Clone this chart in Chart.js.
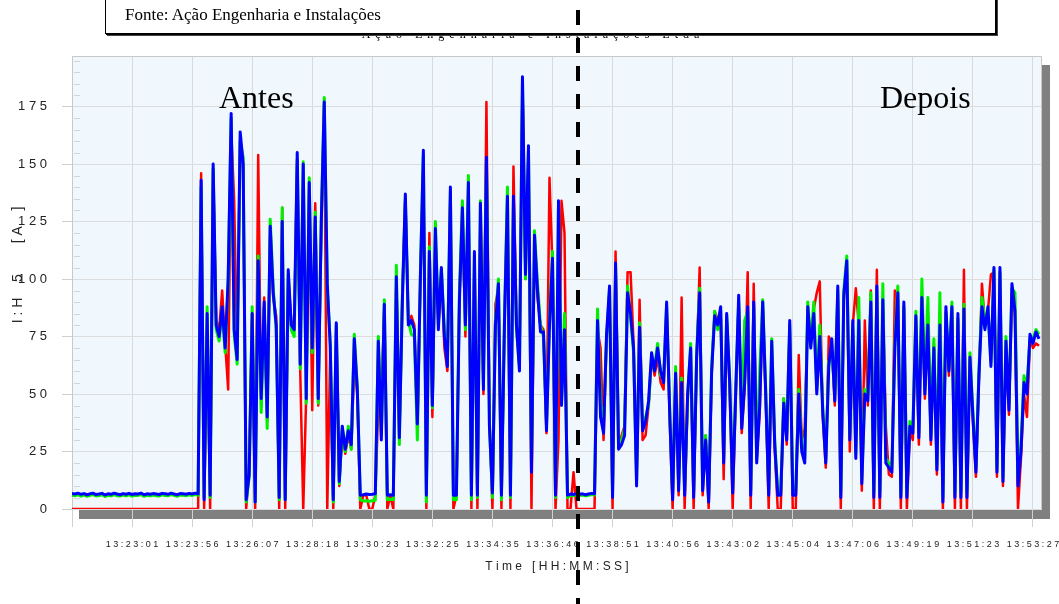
<!DOCTYPE html>
<html>
<head>
<meta charset="utf-8">
<script src="https://cdn.jsdelivr.net/npm/chart.js@4/dist/chart.umd.min.js"></script>
<style>
  html, body { margin: 0; padding: 0; background: #fff; overflow: hidden; }
  #wrap { position: relative; width: 1059px; height: 604px; }
  #c { position: absolute; left: 0; top: 0; z-index: 0; }
  .serif { position: absolute; font-family: 'Liberation Serif', 'Times New Roman', serif; color: #000; white-space: nowrap; }
  #title { left: 0; top: 27px; width: 1066px; text-align: center; font-size: 12px; line-height: 14px; letter-spacing: 5px; z-index: 1; }
  #fonte { left: 105px; top: -2px; width: 891px; height: 36px; box-sizing: border-box; border: 1px solid #000;
           box-shadow: 1px 1px 0 #000, 2px 2px 0 #444; background: #fff; z-index: 2; }
  #fonte span { position: absolute; left: 19px; top: 6px; font-size: 17px; line-height: 20px; }
  .big { font-size: 32px; line-height: 32px; top: 81px; z-index: 3; }
  #dash { position: absolute; left: 576px; top: 10px; width: 4px; height: 594px; z-index: 4;
          background: repeating-linear-gradient(to bottom, #000 0 15px, transparent 15px 28px); }
</style>
</head>
<body>
<div id="wrap">
  <canvas id="c" width="1059" height="604"></canvas>
  <div id="title" class="serif">Ação Engenharia e Instalações Ltda</div>
  <div id="fonte" class="serif"><span>Fonte: Ação Engenharia e Instalações</span></div>
  <div class="serif big" style="left:219px">Antes</div>
  <div class="serif big" style="left:880px">Depois</div>
  <div id="dash"></div>
</div>
<script>
// time labels under the vertical grid lines (one every 20 samples)
const timeLabels = ['13:23:01', '13:23:56', '13:26:07', '13:28:18', '13:30:23', '13:32:25', '13:34:35', '13:36:46',
  '13:38:51', '13:40:56', '13:43:02', '13:45:04', '13:47:06', '13:49:19', '13:51:23', '13:53:27']
const samplesPerLabel = 20
const xMax = 323
const yMax = 197
const yStep = 25

// I:H5 [A] per phase (323 samples)
const phaseBlue = [
  6.8, 6.5, 6.9, 6.4, 6.7, 6.2, 6.6, 6.9, 6.3, 6.5,
  6.8, 6.1, 6.6, 6.4, 6.9, 6.5, 6.2, 6.7, 6.4, 6.8,
  6.3, 6.6, 6.5, 6.9, 6.2, 6.6, 6.4, 6.7, 6.5, 6.3,
  6.8, 6.6, 6.4, 6.9, 6.5, 6.2, 6.7, 6.6, 6.4, 6.8,
  6.5, 6.9, 6.6, 143, 4, 85, 6, 150, 80, 75,
  88, 70, 100, 172, 78, 65, 164, 150, 4, 15,
  85, 3, 108, 48, 90, 40, 123, 94, 80, 5,
  125, 4, 104, 80, 78, 155, 63, 150, 48, 142,
  70, 127, 48, 124, 177, 98, 71, 4, 81, 12,
  36, 26, 34, 28, 74, 52, 6, 6.2, 6.5, 6.3,
  6.4, 6.6, 73, 30, 89, 6, 6.2, 6, 101, 31,
  90, 137, 80, 82, 78, 37, 100, 156, 6, 112,
  45, 122, 78, 105, 75, 62, 140, 6, 6, 90,
  131, 80, 142, 6, 112, 6, 133, 52, 153, 36,
  7, 80, 98, 6, 80, 136, 6, 136, 80, 60,
  188, 102, 158, 16, 119, 95, 77, 77, 34, 80,
  109, 6, 134, 45, 78, 6, 6.5, 6.3, 6.7, 6.4,
  6.6, 6.2, 6.5, 6.8, 6.6, 82, 40, 33, 76, 97,
  5, 107, 26, 28, 32, 94, 85, 70, 10, 79,
  34, 38, 47, 68, 60, 70, 60, 55, 90, 43,
  4, 59, 8, 55, 6, 50, 70, 5, 66, 94,
  8, 30, 3, 60, 84, 80, 88, 20, 85, 55,
  7, 50, 93, 35, 55, 88, 6, 90, 20, 45,
  90, 50, 6, 73, 28, 6, 6, 46, 30, 82,
  6, 6, 50, 25, 20, 88, 70, 85, 50, 75,
  42, 20, 62, 74, 47, 97, 5, 93, 108, 30,
  82, 22, 82, 11, 50, 47, 90, 5, 97, 5,
  91, 20, 18, 16, 70, 94, 5, 90, 5, 36,
  33, 84, 31, 92, 50, 80, 30, 70, 17, 80,
  3, 88, 60, 88, 5, 85, 5, 87, 5, 66,
  40, 16, 58, 88, 78, 88, 62, 105, 16, 105,
  12, 73, 43, 98, 86, 10, 25, 55, 50, 76,
  72, 77, 74
]

const phaseGreen = [
  6.0, 5.8, 6.2, 5.6, 6.1, 5.5, 5.9, 6.3, 5.7, 5.9,
  6.2, 5.4, 6.0, 5.7, 6.3, 5.8, 5.6, 6.1, 5.7, 6.2,
  5.6, 6.0, 5.9, 6.3, 5.5, 6.0, 5.7, 6.1, 5.8, 5.6,
  6.2, 5.9, 5.8, 6.3, 5.9, 5.5, 6.1, 6.0, 5.8, 6.2,
  5.9, 6.3, 6.0, 140, 5, 88, 5, 148, 78, 73,
  86, 68, 98, 170, 76, 63, 160, 153, 3, 14,
  88, 3, 110, 42, 88, 35, 126, 96, 78, 4,
  131, 4, 102, 78, 75, 152, 61, 151, 46, 144,
  68, 129, 46, 125, 179, 96, 72, 3, 80, 11,
  35, 25, 36, 26, 76, 53, 4, 3.5, 3.6, 3.4,
  3.6, 3.8, 75, 32, 91, 4, 4.2, 4, 106, 28,
  92, 135, 82, 76, 75, 30, 102, 154, 3, 114,
  44, 125, 80, 104, 78, 64, 138, 4, 4, 94,
  134, 78, 145, 4, 110, 5, 134, 54, 151, 38,
  5, 82, 100, 4, 82, 140, 5, 134, 78, 62,
  186, 100, 156, 18, 121, 98, 80, 75, 36, 82,
  112, 5, 132, 47, 85, 5, 6, 5.8, 6.2, 5.9,
  6.1, 5.7, 6, 6.3, 6.1, 87, 45, 38, 74, 96,
  6, 105, 27, 30, 35, 97, 83, 68, 12, 81,
  36, 40, 45, 66, 62, 72, 58, 57, 88, 45,
  6, 62, 10, 57, 8, 48, 72, 7, 68, 96,
  10, 32, 5, 62, 86, 78, 86, 22, 84, 57,
  9, 52, 90, 38, 82, 86, 8, 88, 22, 60,
  91, 52, 8, 74, 30, 7, 7, 48, 33, 80,
  8, 8, 52, 28, 22, 90, 72, 90, 52, 80,
  44, 22, 64, 68, 50, 95, 7, 95, 110, 32,
  80, 24, 92, 13, 52, 50, 94, 7, 95, 7,
  98, 22, 20, 18, 72, 97, 6, 88, 7, 38,
  35, 86, 33, 100, 52, 92, 32, 74, 19, 94,
  5, 85, 62, 90, 7, 83, 7, 89, 7, 68,
  42, 18, 60, 92, 82, 86, 64, 104, 18, 103,
  14, 75, 45, 96, 94, 14, 28, 58, 53, 74,
  74, 78, 76
]

const phaseRed = [
  0, 0, 0, 0, 0, 0, 0, 0, 0, 0,
  0, 0, 0, 0, 0, 0, 0, 0, 0, 0,
  0, 0, 0, 0, 0, 0, 0, 0, 0, 0,
  0, 0, 0, 0, 0, 0, 0, 0, 0, 0,
  0, 0, 0, 146, 0, 80, 0, 148, 82, 78,
  95, 72, 52, 165, 134, 68, 160, 148, 0, 18,
  85, 0, 154, 45, 92, 38, 120, 92, 84, 0,
  131, 0, 100, 82, 80, 152, 60, 0, 50, 140,
  43, 133, 45, 120, 178, 0, 70, 0, 80, 10,
  34, 24, 32, 26, 64, 50, 0, 6, 6, 0,
  0, 6, 45, 46, 88, 0, 6, 0, 100, 30,
  92, 136, 82, 84, 80, 35, 98, 150, 0, 120,
  40, 118, 80, 103, 70, 60, 138, 0, 6, 92,
  128, 75, 138, 0, 110, 0, 130, 50, 177, 40,
  0, 89, 96, 0, 82, 132, 0, 149, 82, 62,
  185, 100, 155, 0, 118, 92, 80, 78, 33, 144,
  105, 0, 30, 134, 120, 0, 0, 16, 0, 0,
  0, 0, 0, 0, 0, 78, 70, 30, 74, 95,
  0, 112, 28, 32, 36, 103, 103, 72, 12, 91,
  30, 32, 45, 66, 58, 66, 55, 52, 88, 40,
  0, 58, 6, 92, 0, 48, 68, 0, 64, 105,
  6, 32, 0, 58, 86, 82, 86, 13, 83, 52,
  0, 48, 91, 33, 52, 103, 0, 98, 22, 42,
  88, 48, 0, 70, 26, 0, 0, 48, 28, 80,
  0, 0, 67, 30, 35, 86, 72, 87, 94, 99,
  40, 18, 75, 72, 45, 95, 0, 91, 105, 25,
  80, 96, 80, 8, 82, 45, 95, 0, 104, 0,
  89, 36, 15, 14, 95, 92, 0, 88, 0, 34,
  30, 82, 28, 90, 48, 85, 28, 72, 15, 86,
  0, 86, 58, 86, 0, 83, 0, 104, 0, 64,
  38, 14, 56, 98, 80, 86, 102, 103, 14, 103,
  10, 71, 41, 96, 84, 0, 22, 50, 40, 74,
  70, 72, 71
]

const spaced = s => s.split('').join(' ')
const toPoints = arr => arr.map((v, i) => ({ x: i, y: v }))
const nb = n => '\u00a0'.repeat(n)

const plotFrame = {
  id: 'plotFrame',
  beforeDraw(chart) {
    const { ctx, chartArea: a } = chart
    ctx.save()
    ctx.fillStyle = '#808080'
    ctx.fillRect(a.left + 7, a.bottom, a.right - a.left + 1, 10)
    ctx.fillRect(a.right, a.top + 9, 8, a.bottom - a.top + 1)
    ctx.fillStyle = '#f0f8fe'
    ctx.fillRect(a.left, a.top, a.right - a.left, a.bottom - a.top)
    ctx.restore()
  },
  beforeDatasetsDraw(chart) {
    const { ctx, chartArea: a, scales: { y } } = chart
    ctx.save()
    ctx.strokeStyle = '#d4d4d4'
    ctx.lineWidth = 1
    for (let v = 5; v < yMax; v += 5) {
      if (v % yStep === 0) continue
      const py = Math.round(y.getPixelForValue(v)) + 0.5
      ctx.beginPath()
      ctx.moveTo(a.left + 2, py)
      ctx.lineTo(a.left + 8, py)
      ctx.stroke()
    }
    ctx.strokeStyle = '#c8c8c8'
    ctx.beginPath()
    ctx.moveTo(a.left + 0.5, a.bottom)
    ctx.lineTo(a.left + 0.5, a.top + 0.5)
    ctx.lineTo(a.right - 0.5, a.top + 0.5)
    ctx.lineTo(a.right - 0.5, a.bottom)
    ctx.stroke()
    ctx.restore()
  }
}

const lineStyle = (color, width) => ({
  borderColor: color, backgroundColor: color, borderWidth: width,
  pointRadius: 0, tension: 0, fill: false, borderJoinStyle: 'round'
})

new Chart(document.getElementById('c').getContext('2d'), {
  type: 'line',
  data: {
    datasets: [
      { label: 'L3', data: toPoints(phaseBlue), ...lineStyle('#0000ff', 3) },
      { label: 'L2', data: toPoints(phaseGreen), ...lineStyle('#00f000', 3) },
      { label: 'L1', data: toPoints(phaseRed), ...lineStyle('#ff0000', 2.5) }
    ]
  },
  options: {
    responsive: false,
    animation: false,
    devicePixelRatio: 1,
    layout: { padding: { top: 56, right: 17, left: 0, bottom: 0 } },
    plugins: { legend: { display: false }, tooltip: { enabled: false } },
    scales: {
      x: {
        type: 'linear',
        min: 0,
        max: xMax,
        afterFit(s) { s.height = 95; s.paddingLeft = 0; s.paddingRight = 0 },
        afterBuildTicks(s) {
          s.ticks = [0, ...timeLabels.map((_, k) => (k + 1) * samplesPerLabel)].map(value => ({ value }))
        },
        ticks: {
          autoSkip: false,
          maxRotation: 0,
          padding: 12,
          color: '#222',
          font: { family: "'Liberation Sans', Arial, sans-serif", size: 9 },
          callback: v => v === 0 ? '' : spaced(timeLabels[v / samplesPerLabel - 1] || '')
        },
        grid: { color: '#d9d9d9', tickColor: '#d0d0d0', tickLength: 18 },
        border: { display: false },
        title: {
          display: true,
          text: spaced('Time [HH:MM:SS]'),
          color: '#222',
          padding: { bottom: 30 },
          font: { family: "'Liberation Sans', Arial, sans-serif", size: 12 }
        }
      },
      y: {
        min: 0,
        max: yMax,
        afterFit(s) { s.width = 72; s.paddingTop = 0; s.paddingBottom = 0 },
        afterBuildTicks(s) { s.ticks = s.ticks.filter(t => t.value % yStep === 0) },
        ticks: {
          stepSize: yStep,
          padding: 15,
          color: '#222',
          font: { family: "'Liberation Sans', Arial, sans-serif", size: 13 },
          callback: v => spaced(String(v))
        },
        grid: { color: '#dcdcdc', tickColor: '#d0d0d0', tickLength: 10 },
        border: { display: false },
        title: {
          display: true,
          text: nb(9) + 'I : H' + nb(4) + '5' + nb(8) + '[ A' + nb(4) + ']',
          color: '#222',
          padding: { top: 10 },
          font: { family: "'Liberation Sans', Arial, sans-serif", size: 14 }
        }
      }
    }
  },
  plugins: [plotFrame]
})
</script>
</body>
</html>
